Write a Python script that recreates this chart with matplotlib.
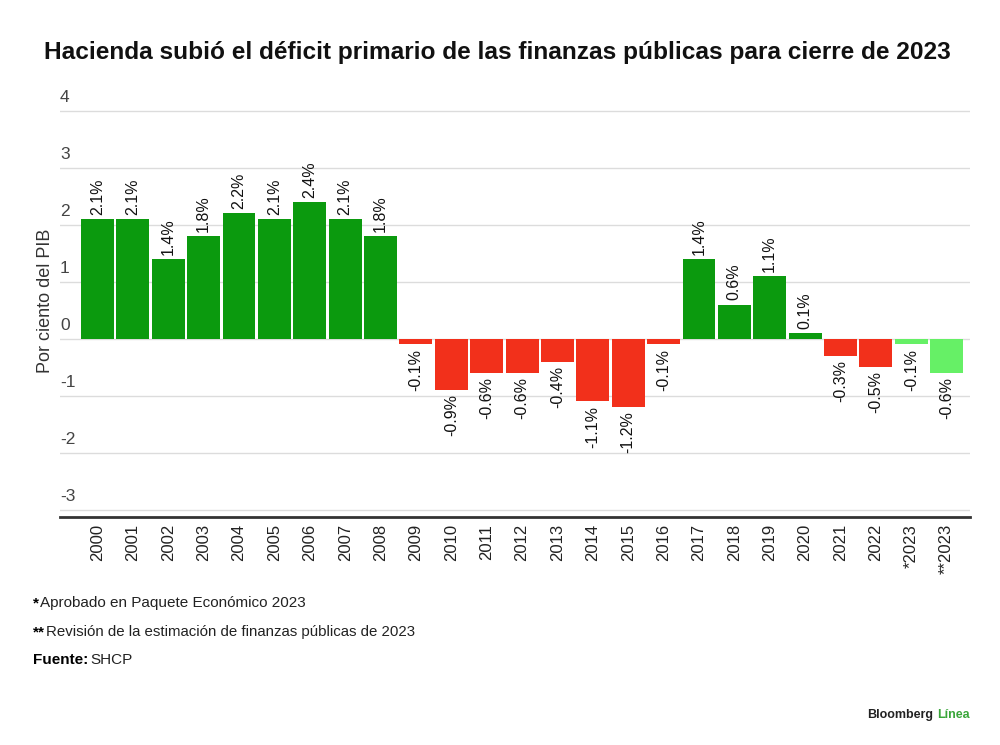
import matplotlib
matplotlib.use("Agg")
import matplotlib.pyplot as plt
from matplotlib.transforms import offset_copy

plt.rcParams['font.family'] = ['Liberation Sans', 'DejaVu Sans']

categories = ["2000", "2001", "2002", "2003", "2004", "2005", "2006", "2007", "2008",
              "2009", "2010", "2011", "2012", "2013", "2014", "2015", "2016", "2017",
              "2018", "2019", "2020", "2021", "2022", "*2023", "**2023"]
values = [2.1, 2.1, 1.4, 1.8, 2.2, 2.1, 2.4, 2.1, 1.8,
          -0.1, -0.9, -0.6, -0.6, -0.4, -1.1, -1.2, -0.1, 1.4,
          0.6, 1.1, 0.1, -0.3, -0.5, -0.1, -0.6]
value_labels = ["2.1%", "2.1%", "1.4%", "1.8%", "2.2%", "2.1%", "2.4%", "2.1%", "1.8%",
                "-0.1%", "-0.9%", "-0.6%", "-0.6%", "-0.4%", "-1.1%", "-1.2%", "-0.1%", "1.4%",
                "0.6%", "1.1%", "0.1%", "-0.3%", "-0.5%", "-0.1%", "-0.6%"]
estimates = [False] * 23 + [True, True]
yticks = [-3, -2, -1, 0, 1, 2, 3, 4]

GREEN = "#0b9a0e"
RED = "#f2301b"
LIGHT = "#66f066"

fig = plt.figure(figsize=(10, 7.45), dpi=100)
ax = fig.add_axes([0.06, 0.306, 0.91, 0.549])

colors = []
for v, e in zip(values, estimates):
    if e:
        colors.append(LIGHT)
    elif v >= 0:
        colors.append(GREEN)
    else:
        colors.append(RED)

x = list(range(len(categories)))
ax.bar(x, values, width=0.93, color=colors, zorder=3)

for xi, v, lab in zip(x, values, value_labels):
    if v >= 0:
        t = offset_copy(ax.transData, fig=fig, x=0, y=3, units='points')
        ax.text(xi, v, lab, rotation=90, ha='center', va='bottom', fontsize=11.5,
                color='#111111', transform=t)
    else:
        t = offset_copy(ax.transData, fig=fig, x=0, y=-3, units='points')
        ax.text(xi, v, lab, rotation=90, ha='center', va='top', fontsize=11.5,
                color='#111111', transform=t)

ax.set_xlim(-1.06, 24.66)
ax.set_ylim(-3.13, 4.05)
ax.set_yticks(yticks)
ax.set_yticklabels([])
for yv in yticks:
    ax.axhline(yv, color='#dcdcdc', lw=1, zorder=1)
    ax.annotate(str(yv), xy=(0, yv), xycoords=('axes fraction', 'data'),
                xytext=(0, 4), textcoords='offset points', ha='left', va='bottom',
                fontsize=12.5, color='#444444')
ax.tick_params(axis='y', length=0)
ax.set_xticks(x)
ax.set_xticklabels(categories, rotation=90, fontsize=12, color='#222222')
ax.tick_params(axis='x', length=0, pad=5)
for s in ['top', 'right', 'left']:
    ax.spines[s].set_visible(False)
ax.spines['bottom'].set_color('#333333')
ax.spines['bottom'].set_linewidth(2)

fig.text(0.045, 1 - 301 / 745, "Por ciento del PIB", rotation=90, ha='center', va='center',
         fontsize=13, color='#333333')

fig.text(0.497, 1 - 52 / 745,
         "Hacienda subió el déficit primario de las finanzas públicas para cierre de 2023",
         ha='center', va='center', fontsize=17.6, fontweight='bold', color='#111111')

fig.text(0.033, 1 - 603 / 745, "*", fontsize=11, fontweight='bold', ha='left', va='center')
fig.text(0.040, 1 - 603 / 745, "Aprobado en Paquete Económico 2023", fontsize=11,
         ha='left', va='center', color='#222222')
fig.text(0.033, 1 - 632 / 745, "**", fontsize=11, fontweight='bold', ha='left', va='center')
fig.text(0.046, 1 - 632 / 745, "Revisión de la estimación de finanzas públicas de 2023",
         fontsize=10.8, ha='left', va='center', color='#222222')
fig.text(0.033, 1 - 660 / 745, "Fuente:", fontsize=11, fontweight='bold', ha='left', va='center')
fig.text(0.090, 1 - 660 / 745, "SHCP", fontsize=11, ha='left', va='center', color='#222222')

fig.text(0.933, 1 - 715 / 745, "Bloomberg", fontsize=9, fontweight='bold', ha='right',
         va='center', color='#222222')
fig.text(0.937, 1 - 715 / 745, "Línea", fontsize=9, fontweight='bold', ha='left',
         va='center', color='#3aa63a')

fig.savefig("out.png", dpi=100, facecolor='white')
